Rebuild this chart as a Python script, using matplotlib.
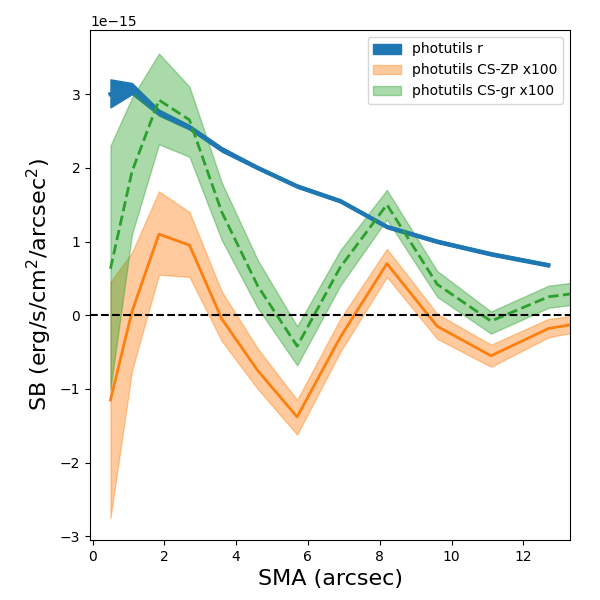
import matplotlib
matplotlib.use("Agg")
import matplotlib.pyplot as plt
import numpy as np

sma = np.array([0.5, 1.1, 1.85, 2.7, 3.6, 4.6, 5.7, 6.9, 8.2, 9.6, 11.1, 12.7, 14.3])

sb_r = np.array([3.0, 3.1, 2.75, 2.55, 2.25, 2.0, 1.75, 1.55, 1.2, 1.0, 0.83, 0.68]) * 1e-15
sb_r_lo = np.array([2.82, 3.0, 2.71, 2.52, 2.22, 1.98, 1.73, 1.53, 1.18, 0.98, 0.81, 0.66]) * 1e-15
sb_r_hi = np.array([3.2, 3.15, 2.79, 2.58, 2.28, 2.02, 1.77, 1.57, 1.22, 1.02, 0.85, 0.70]) * 1e-15

zp = np.array([-1.15, 0.05, 1.1, 0.95, -0.05, -0.75, -1.38, -0.3, 0.7, -0.15, -0.55, -0.18, -0.05]) * 1e-15
zp_lo = np.array([-2.75, -0.75, 0.55, 0.52, -0.35, -1.0, -1.62, -0.5, 0.52, -0.32, -0.7, -0.3, -0.15]) * 1e-15
zp_hi = np.array([0.45, 0.85, 1.68, 1.4, 0.32, -0.45, -1.15, -0.05, 0.9, 0.02, -0.4, -0.05, 0.05]) * 1e-15

gr = np.array([0.63, 1.95, 2.92, 2.65, 1.4, 0.4, -0.42, 0.65, 1.5, 0.42, -0.08, 0.25, 0.35]) * 1e-15
gr_lo = np.array([-1.0, 1.1, 2.32, 2.15, 1.02, 0.1, -0.68, 0.4, 1.3, 0.25, -0.25, 0.1, 0.2]) * 1e-15
gr_hi = np.array([2.3, 2.95, 3.55, 3.1, 1.8, 0.75, -0.15, 0.88, 1.7, 0.6, 0.05, 0.4, 0.5]) * 1e-15

fig, ax = plt.subplots(figsize=(6, 6), dpi=100)
n = len(sb_r)
ax.fill_between(sma[:n], sb_r_lo, sb_r_hi, color='C0', label='photutils r')
ax.plot(sma[:n], sb_r, color='C0', lw=3)
ax.fill_between(sma, zp_lo, zp_hi, color='C1', alpha=0.4, label='photutils CS-ZP x100')
ax.plot(sma, zp, color='C1', lw=2)
ax.fill_between(sma, gr_lo, gr_hi, color='C2', alpha=0.4, label='photutils CS-gr x100')
ax.plot(sma, gr, color='C2', lw=2, ls='--')
ax.axhline(0, color='k', ls='--')
ax.set_xlim(-0.07, 13.3)
ax.set_ylim(-3.05e-15, 3.87e-15)
ax.set_xlabel('SMA (arcsec)', fontsize=16)
ax.set_ylabel('SB (erg/s/cm$^2$/arcsec$^2$)', fontsize=16)
ax.legend(loc='upper right')
plt.subplots_adjust(left=0.15, right=0.95, top=0.95, bottom=0.1)
plt.savefig('out.png')
